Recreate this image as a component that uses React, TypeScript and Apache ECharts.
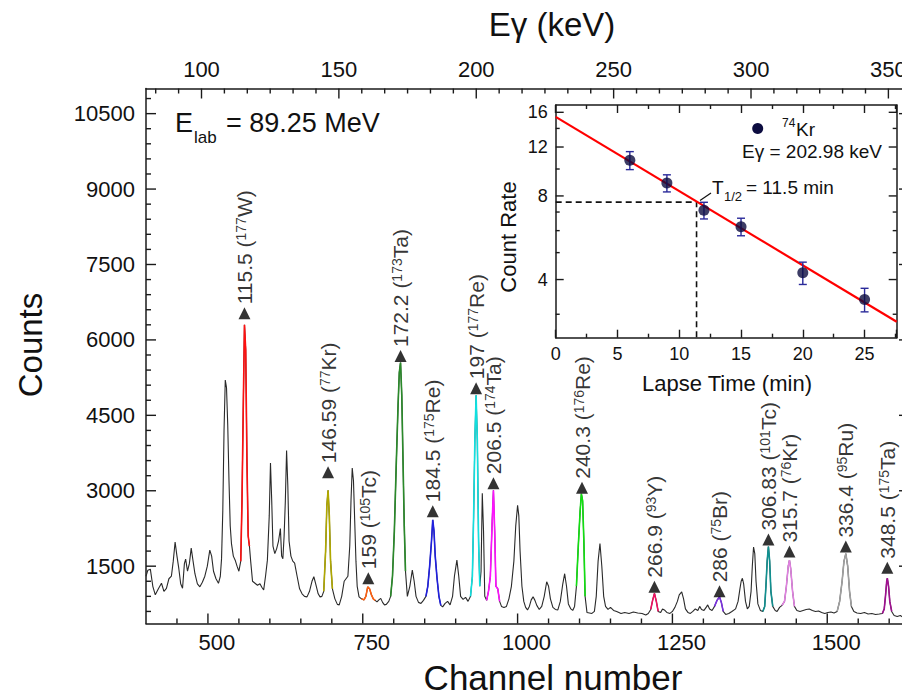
import React, { useEffect, useRef } from "react";
import * as echarts from "echarts";

const FONT = "'Liberation Sans', Arial, Helvetica, sans-serif";

// ---------- main spectrum: [channel, counts] ----------
const spectrum: [number, number][] = [
  [400,1300],[403,1420],[407,1440],[411,1100],[415,930],[420,1050],[425,1160],[429,1000],[433,1060],[437,1250],
  [441,1300],[444,1600],[447,1980],[450,1700],[453,1450],[456,1150],[459,1060],[462,1550],[464,1640],[467,1400],
  [470,1550],[473,1860],[476,1600],[479,1350],[483,1150],[487,1090],[491,1180],[495,1300],[499,1500],[503,1820],
  [506,1700],[509,1400],[513,1250],[517,1160],[520,1300],[522,1650],[524,2600],[526,4200],[528,5200],[530,5050],
  [532,4300],[534,3200],[536,2300],[538,1950],[541,1700],[544,1620],[547,1500],[550,1400],[553,1600],[555,2800],
  [557,4600],[559,6300],[561,5800],[563,3600],[565,2100],[567,1900],[569,1600],[572,1200],[576,1160],[580,1120],
  [584,1150],[587,1080],[590,1030],[593,1300],[596,1620],[599,2500],[601,3550],[603,2800],[605,1900],[608,1750],
  [611,1850],[614,2000],[617,2250],[619,1700],[621,1650],[623,2100],[625,2800],[627,3800],[629,3100],[631,2000],
  [634,1700],[637,1600],[640,1560],[644,1300],[648,1050],[652,950],[656,900],[660,890],[664,1000],[668,1200],
  [671,1290],[674,1150],[678,950],[681,890],[684,900],[687,1000],[690,1800],[692,2700],[694,3010],[696,2500],
  [698,1600],[701,1050],[705,850],[709,740],[712,730],[716,900],[720,1200],[723,1250],[726,1300],[729,1900],
  [731,2800],[733,3450],[735,3200],[737,2400],[739,1600],[741,1100],[744,890],[748,850],[752,830],[755,900],
  [758,1090],[761,1050],[764,930],[767,850],[770,820],[773,790],[776,830],[779,860],[782,780],[785,730],
  [788,740],[792,800],[795,900],[798,1300],[801,2200],[804,3500],[807,4700],[809,5350],[811,5550],[813,4900],
  [815,3600],[817,2300],[819,1400],[822,900],[826,1100],[830,1420],[833,1200],[836,900],[840,780],[844,760],
  [848,820],[852,900],[855,1100],[858,1500],[861,2000],[863,2420],[865,2200],[867,1700],[870,1250],[873,900],
  [876,720],[879,690],[883,760],[887,800],[891,730],[895,900],[898,1300],[902,1620],[905,1300],[908,900],
  [912,840],[916,880],[920,800],[924,900],[927,1300],[929,2500],[931,4000],[933,4900],[935,4000],[937,2000],
  [939,1100],[941,1400],[943,2950],[945,2200],[947,900],[950,820],[953,1000],[956,1300],[959,2400],[961,3010],
  [963,2200],[965,1100],[968,1050],[971,800],[974,700],[978,680],[982,700],[986,850],[990,1100],[994,1600],
  [997,2300],[1000,2710],[1002,2500],[1004,1800],[1007,1100],[1010,800],[1013,680],[1016,630],[1019,700],[1022,830],
  [1025,890],[1028,820],[1031,720],[1035,640],[1039,700],[1043,900],[1047,1190],[1050,1100],[1053,850],[1057,680],
  [1061,640],[1065,630],[1069,800],[1073,1150],[1076,1350],[1079,1100],[1082,750],[1086,650],[1089,620],[1092,700],
  [1095,1100],[1098,1900],[1101,2600],[1103,2940],[1105,2800],[1107,2000],[1109,900],[1112,580],[1116,570],[1120,560],
  [1124,600],[1127,900],[1130,1600],[1133,1950],[1136,1500],[1139,900],[1142,700],[1146,640],[1150,680],[1155,620],
  [1160,600],[1167,560],[1173,580],[1180,560],[1187,590],[1194,570],[1201,560],[1207,530],[1211,560],[1215,640],
  [1218,820],[1221,960],[1224,800],[1227,600],[1231,580],[1234,650],[1237,630],[1241,580],[1246,560],[1250,600],
  [1254,680],[1258,800],[1261,930],[1265,990],[1268,850],[1271,650],[1275,580],[1279,560],[1283,600],[1287,650],
  [1291,620],[1294,700],[1297,640],[1301,620],[1305,690],[1307,730],[1310,650],[1314,620],[1318,700],[1322,820],
  [1326,890],[1329,780],[1332,600],[1336,540],[1341,560],[1346,600],[1352,650],[1356,800],[1359,1050],[1361,1200],
  [1363,1260],[1365,1150],[1368,800],[1371,650],[1374,700],[1377,1000],[1379,1500],[1381,1880],[1383,1750],[1385,1200],
  [1388,750],[1392,620],[1396,600],[1399,700],[1401,1100],[1403,1600],[1405,1890],[1407,1600],[1409,1000],[1412,700],
  [1416,620],[1419,600],[1423,680],[1427,720],[1431,800],[1434,1100],[1437,1500],[1439,1620],[1441,1450],[1444,1000],
  [1447,700],[1451,620],[1456,600],[1461,620],[1466,640],[1471,650],[1476,620],[1481,600],[1486,610],[1491,580],
  [1496,560],[1501,580],[1506,590],[1511,570],[1516,600],[1520,800],[1524,1200],[1527,1600],[1530,1750],[1533,1500],
  [1536,1000],[1539,700],[1543,600],[1548,570],[1554,560],[1560,580],[1566,550],[1572,560],[1578,540],[1584,550],
  [1589,560],[1592,650],[1594,900],[1596,1200],[1597,1260],[1599,1100],[1601,800],[1604,600],[1608,520],[1613,500],
  [1618,520],[1624,470],[1630,450]
];

// ---------- labelled peaks ----------
const peakChannels = [559, 694, 759, 811, 863, 933, 961, 1104, 1221, 1326, 1405, 1439, 1530, 1597];
const peakArrowCounts = [6530, 3370, 1262, 5680, 2594, 5040, 3150, 3060, 1093, 1000, 2030, 1790, 1890, 1470];
const peakEnergies = ["115.5", "146.59", "159", "172.2", "184.5", "197", "206.5", "240.3", "266.9", "286", "306.83", "315.7", "336.4", "348.5"];
const peakMass = ["177", "77", "105", "173", "175", "177", "174", "176", "93", "75", "101", "76", "95", "175"];
const peakElement = ["W", "Kr", "Tc", "Ta", "Re", "Re", "Ta", "Re", "Y", "Br", "Tc", "Kr", "Ru", "Ta"];
const peakColors = ["#ff1010", "#b0a800", "#ff6010", "#2a8a2a", "#2020e0", "#10e0e0", "#ff10ff", "#10e010", "#f01060", "#7a30e0", "#109090", "#e080e0", "#a0a0a0", "#a01090"];
const peakRanges: [number, number][] = [
  [552, 568], [686, 702], [748, 772], [795, 821], [849, 877], [923, 940], [950, 972],
  [1093, 1111], [1212, 1229], [1315, 1334], [1396, 1413], [1427, 1448], [1514, 1541], [1589, 1606]
];

// ---------- axis ticks ----------
const channelMajor = [500, 750, 1000, 1250, 1500];
const countMajor = [1500, 3000, 4500, 6000, 7500, 9000, 10500];
const energyMajor = [100, 150, 200, 250, 300, 350];
const rateMajor = [4, 8, 12, 16];
const rateMinor = [3, 5, 6, 7, 10, 14];

// ---------- inset: decay curve ----------
const lapseTime = [6, 9, 12, 15, 20, 25];
const countRate = [10.75, 8.9, 7.1, 6.2, 4.23, 3.39];
const rateErr = [0.8, 0.63, 0.49, 0.45, 0.39, 0.33];
const fitTime = [0, 27.6];
const fitRate = [15.4, 2.82];
const halfLifeTime = 11.4;
const halfLifeRate = 7.6;

const TICK_COLOR = "#1a1a1a";

function stepTicks(from: number, to: number, step: number, exclude: number[]): number[] {
  const out: number[] = [];
  const n = Math.round((to - from) / step);
  for (let i = 0; i <= n; i++) {
    const v = Math.round((from + i * step) * 1000) / 1000;
    if (!exclude.some((e) => Math.abs(e - v) < 1e-6)) out.push(v);
  }
  return out;
}

type Side = "bottom" | "top" | "left" | "right";

function tickSeries(xi: number, yi: number, side: Side, anchor: number, major: number[], minor: number[], majorLen: number, minorLen: number) {
  return {
    type: "custom",
    xAxisIndex: xi,
    yAxisIndex: yi,
    z: 8,
    silent: true,
    clip: false,
    data: [...major.map((v) => [v, majorLen]), ...minor.map((v) => [v, minorLen])],
    renderItem: (_p: any, api: any) => {
      const v = api.value(0);
      const len = api.value(1);
      let p: number[];
      let x2: number;
      let y2: number;
      if (side === "bottom" || side === "top") {
        p = api.coord([v, anchor]);
        x2 = p[0];
        y2 = side === "bottom" ? p[1] - len : p[1] + len;
      } else {
        p = api.coord([anchor, v]);
        y2 = p[1];
        x2 = side === "left" ? p[0] + len : p[0] - len;
      }
      return { type: "line", shape: { x1: p[0], y1: p[1], x2, y2 }, style: { stroke: TICK_COLOR, lineWidth: 1.4 } };
    },
  };
}

export default function App() {
  const ref = useRef<HTMLDivElement>(null);

  useEffect(() => {
    if (!ref.current) return;
    const chart = echarts.init(ref.current, undefined, { renderer: "svg" });

    const CH_MIN = 400, CH_MAX = 1632;
    const Y_MIN = 360, Y_MAX = 11000;
    const E_MIN = 79.8, E_MAX = 357.5;
    const T_MIN = 0, T_MAX = 27.6;
    const RATE_MIN = 2.47, RATE_MAX = 17;

    const channelMinor = stepTicks(450, 1600, 50, channelMajor);
    const countMinor = stepTicks(600, 10800, 300, countMajor);
    const energyMinor = stepTicks(100 - 2 * 50 / 6, 350 + 50 / 6, 50 / 6, energyMajor);

    const axLine = { show: true, onZero: false, lineStyle: { color: "#1a1a1a", width: 1.5 } };
    const noSplit = { show: false };
    const noTick = { show: false };
    const hiddenLabel = { show: false };
    const lbl = (size: number, margin: number, extra: any = {}) => ({
      show: true, fontSize: size, fontFamily: FONT, color: "#111", margin, ...extra,
    });
    const insetTick = { show: true, inside: true, length: 8, lineStyle: { color: TICK_COLOR, width: 1.4 } };
    const insetMinor = { show: true, splitNumber: 2, length: 4, lineStyle: { color: TICK_COLOR, width: 1.4 } };

    const xAxes: any[] = [
      { gridIndex: 0, type: "value", position: "bottom", min: CH_MIN, max: CH_MAX, axisLine: axLine, splitLine: noSplit, axisTick: noTick,
        axisLabel: lbl(22, 8, { customValues: channelMajor, padding: [0, 0, 0, 18], formatter: (v: number) => String(v) }) },
      { gridIndex: 0, type: "value", position: "top", min: E_MIN, max: E_MAX, axisLine: axLine, splitLine: noSplit, axisTick: noTick,
        axisLabel: lbl(22, 8, { customValues: energyMajor, formatter: (v: number) => String(v) }) },
      { gridIndex: 1, type: "value", position: "bottom", min: T_MIN, max: T_MAX, interval: 5, axisLine: axLine, splitLine: noSplit,
        axisTick: insetTick, minorTick: insetMinor,
        axisLabel: lbl(18, 7, { showMaxLabel: false }) },
      { gridIndex: 1, type: "value", position: "top", min: T_MIN, max: T_MAX, interval: 5, axisLine: axLine, splitLine: noSplit,
        axisTick: insetTick, minorTick: insetMinor,
        axisLabel: hiddenLabel },
    ];

    const yAxes: any[] = [
      { gridIndex: 0, type: "value", position: "left", min: Y_MIN, max: Y_MAX, axisLine: axLine, splitLine: noSplit, axisTick: noTick,
        axisLabel: lbl(22, 11, { customValues: countMajor, formatter: (v: number) => String(v) }) },
      { gridIndex: 0, type: "value", position: "right", min: Y_MIN, max: Y_MAX, axisLine: axLine, splitLine: noSplit, axisTick: noTick,
        axisLabel: hiddenLabel },
      { gridIndex: 1, type: "log", logBase: 2, position: "left", min: RATE_MIN, max: RATE_MAX, axisLine: axLine, splitLine: noSplit, axisTick: noTick,
        axisLabel: lbl(18, 8, { customValues: rateMajor, formatter: (v: number) => String(Math.round(v)) }) },
      { gridIndex: 1, type: "log", logBase: 2, position: "right", min: RATE_MIN, max: RATE_MAX, axisLine: axLine, splitLine: noSplit, axisTick: noTick,
        axisLabel: hiddenLabel },
    ];

    const segmentSeries = peakRanges.map((r, i) => ({
      type: "line",
      xAxisIndex: 0,
      yAxisIndex: 0,
      showSymbol: false,
      symbol: "none",
      z: 3,
      lineStyle: { color: peakColors[i], width: 1.6 },
      data: spectrum.filter(([c]) => c >= r[0] && c <= r[1]),
    }));

    const arrowSeries = {
      type: "scatter",
      xAxisIndex: 0,
      yAxisIndex: 0,
      symbol: "triangle",
      symbolSize: [12, 12],
      itemStyle: { color: "#000" },
      z: 5,
      label: {
        show: true,
        position: "top",
        rotate: 90,
        align: "left",
        verticalAlign: "middle",
        distance: 3,
        color: "#000",
        fontFamily: FONT,
        rich: {
          n: { fontSize: 21, fontFamily: FONT, color: "#000", verticalAlign: "bottom" },
          s: { fontSize: 14, fontFamily: FONT, color: "#000", verticalAlign: "top" },
        },
      },
      data: peakChannels.map((c, i) => ({
        value: [c, peakArrowCounts[i]],
        label: { formatter: `{n|${peakEnergies[i]} (}{s|${peakMass[i]}}{n|${peakElement[i]})}` },
      })),
    };

    const errorSeries = {
      type: "custom",
      xAxisIndex: 2,
      yAxisIndex: 2,
      z: 4,
      renderItem: (_p: any, api: any) => {
        const x = api.value(0);
        const y = api.value(1);
        const e = api.value(2);
        const top = api.coord([x, y + e]);
        const bot = api.coord([x, y - e]);
        const w = 4;
        const st = { stroke: "#2a2a9a", lineWidth: 1.4 };
        return {
          type: "group",
          children: [
            { type: "line", shape: { x1: top[0], y1: top[1], x2: bot[0], y2: bot[1] }, style: st },
            { type: "line", shape: { x1: top[0] - w, y1: top[1], x2: top[0] + w, y2: top[1] }, style: st },
            { type: "line", shape: { x1: bot[0] - w, y1: bot[1], x2: bot[0] + w, y2: bot[1] }, style: st },
          ],
        };
      },
      data: lapseTime.map((t, i) => [t, countRate[i], rateErr[i]]),
    };

    const txt = (x: number, y: number, text: string, size: number, align = "left", extra: any = {}) => ({
      type: "text", x, y, z: 20, ...extra,
      style: { text, fontSize: size, fontFamily: FONT, fill: "#111", align, verticalAlign: "middle", textAlign: align, textVerticalAlign: "middle" },
    });

    const option: any = {
      animation: false,
      backgroundColor: "#ffffff",
      textStyle: { fontFamily: FONT },
      grid: [
        { left: 146, right: 1, top: 88.5, bottom: 76.5, containLabel: false },
        { left: 555.7, top: 105, width: 341, height: 232.7, containLabel: false },
      ],
      xAxis: xAxes,
      yAxis: yAxes,
      series: [
        {
          type: "line",
          xAxisIndex: 0,
          yAxisIndex: 0,
          showSymbol: false,
          symbol: "none",
          z: 2,
          lineStyle: { color: "#2a2a2a", width: 1.1 },
          data: spectrum,
        },
        ...segmentSeries,
        arrowSeries,
        tickSeries(0, 0, "bottom", Y_MIN, channelMajor, channelMinor, 10, 5),
        tickSeries(1, 0, "top", Y_MAX, energyMajor, energyMinor, 10, 5),
        tickSeries(0, 0, "left", CH_MIN, countMajor, countMinor, 10, 5),
        tickSeries(0, 0, "right", CH_MAX, countMajor, countMinor, 10, 5),
        tickSeries(2, 2, "left", T_MIN, rateMajor, rateMinor, 8, 4),
        tickSeries(2, 2, "right", T_MAX, rateMajor, rateMinor, 8, 4),
        {
          type: "line",
          xAxisIndex: 2,
          yAxisIndex: 2,
          symbol: "none",
          z: 3,
          lineStyle: { color: "#111", width: 1.6, type: [6, 4] },
          data: [[0, halfLifeRate], [halfLifeTime, halfLifeRate], [halfLifeTime, RATE_MIN]],
        },
        {
          type: "line",
          xAxisIndex: 2,
          yAxisIndex: 2,
          symbol: "none",
          z: 3,
          lineStyle: { color: "#ff0000", width: 2.2 },
          data: fitTime.map((t, i) => [t, fitRate[i]]),
        },
        errorSeries,
        {
          type: "scatter",
          xAxisIndex: 2,
          yAxisIndex: 2,
          symbol: "circle",
          symbolSize: 11,
          z: 6,
          itemStyle: { color: "#0c0c40" },
          data: lapseTime.map((t, i) => [t, countRate[i]]),
        },
      ],
      graphic: [
        txt(30, 345, "Counts", 33, "center", { rotation: Math.PI / 2 }),
        txt(553, 677, "Channel number", 35, "center"),
        txt(552, 24, "Eγ (keV)", 33, "center"),
        txt(175, 123, "E", 27),
        txt(194, 137, "lab", 17),
        txt(226, 123, "= 89.25 MeV", 27),
        txt(508, 237, "Count Rate", 22, "center", { rotation: Math.PI / 2 }),
        txt(727, 383, "Lapse Time (min)", 22, "center"),
        { type: "circle", z: 20, shape: { cx: 757.7, cy: 128.5, r: 5.5 }, style: { fill: "#0c0c40" } },
        txt(782, 123, "74", 12),
        txt(796, 129, "Kr", 19),
        txt(882, 151, "Eγ = 202.98 keV", 19, "right"),
        txt(712, 187, "T", 19),
        txt(724, 196, "1/2", 13),
        txt(746, 187, "= 11.5 min", 19),
        { type: "line", z: 20, shape: { x1: 711, y1: 193, x2: 700, y2: 200.5 }, style: { stroke: "#111", lineWidth: 1.2 } },
      ],
    };

    chart.setOption(option);
    return () => chart.dispose();
  }, []);

  return <div ref={ref} style={{ width: 910, height: 700, margin: -8 }} />;
}
